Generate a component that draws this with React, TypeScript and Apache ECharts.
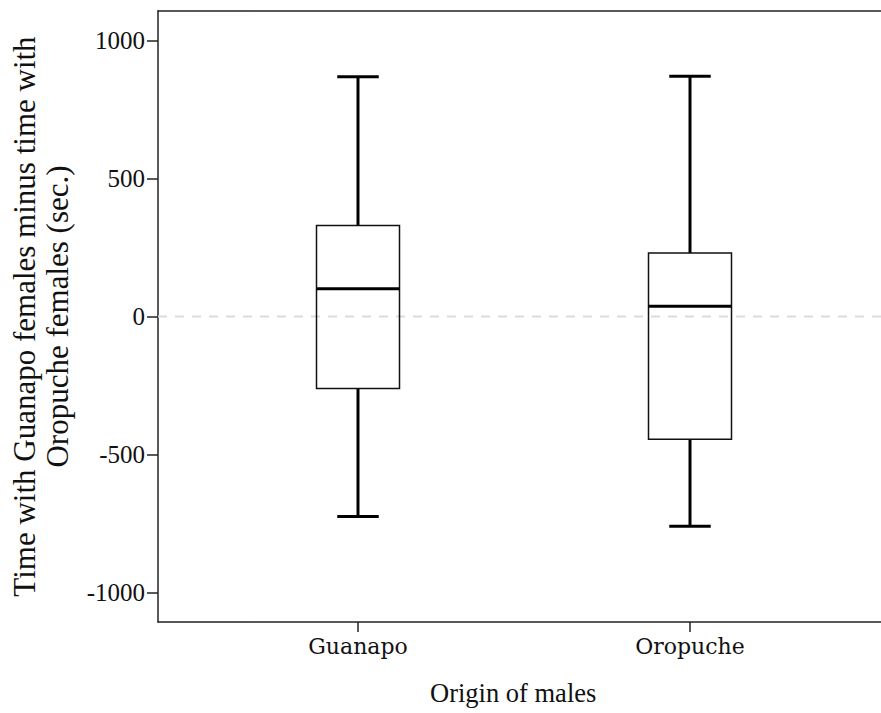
import React, { useEffect, useRef } from "react";
import * as echarts from "echarts";

const categories = ["Guanapo", "Oropuche"];
// [min whisker, Q1, median, Q3, max whisker]
const lowWhisker = [-725, -760];
const q1 = [-261, -445];
const median = [101, 37];
const q3 = [330, 230];
const highWhisker = [869, 871];
const yTicks = [-1000, -500, 0, 500, 1000];
const yMin = -1107;
const yMax = 1107;

const SERIF = "'Liberation Serif', 'Times New Roman', serif";
const DEJAVU_SERIF = "'DejaVu Serif', serif";

export default function App() {
  const ref = useRef<HTMLDivElement>(null);
  useEffect(() => {
    if (!ref.current) return;
    const chart = echarts.init(ref.current, null, { renderer: "svg" });
    const boxData = categories.map((c, i) => [i, lowWhisker[i], q1[i], median[i], q3[i], highWhisker[i]]);
    const option: any = {
      animation: false,
      backgroundColor: "#ffffff",
      grid: [
        { left: 155, right: 0, top: 11, bottom: 91 },
        { left: 192, right: 25, top: 11, bottom: 91 },
      ],
      xAxis: [
        {
          gridIndex: 0,
          type: "value",
          min: 0,
          max: 1,
          position: "bottom",
          axisLine: { show: true, onZero: false, lineStyle: { color: "#222", width: 1.5 } },
          axisTick: { show: false },
          axisLabel: { show: false },
          splitLine: { show: false },
        },
        {
          gridIndex: 0,
          type: "value",
          min: 0,
          max: 1,
          position: "top",
          axisLine: { show: true, onZero: false, lineStyle: { color: "#222", width: 1.5 } },
          axisTick: { show: false },
          axisLabel: { show: false },
          splitLine: { show: false },
        },
        {
          gridIndex: 1,
          type: "category",
          data: categories,
          boundaryGap: true,
          position: "bottom",
          axisLine: { show: false, onZero: false },
          axisTick: { show: true, alignWithLabel: true, length: 10, lineStyle: { color: "#222", width: 1.5 } },
          axisLabel: { show: true, margin: 13, fontFamily: DEJAVU_SERIF, fontSize: 22, color: "#111" },
          splitLine: { show: false },
        },
      ],
      yAxis: [
        {
          gridIndex: 0,
          type: "value",
          min: yMin,
          max: yMax,
          axisLine: { show: true, onZero: false, lineStyle: { color: "#222", width: 1.5 } },
          axisTick: { show: true, length: 11, customValues: yTicks, lineStyle: { color: "#222", width: 1.5 } },
          axisLabel: {
            show: true,
            margin: 13,
            customValues: yTicks,
            formatter: (v: number) => String(v),
            fontFamily: SERIF,
            fontSize: 25,
            color: "#111",
          },
          splitLine: { show: false },
          name: "Time with Guanapo females minus time with\nOropuche females (sec.)",
          nameLocation: "middle",
          nameGap: 84,
          nameTextStyle: { fontFamily: SERIF, fontSize: 31, lineHeight: 33, color: "#111" },
        },
        {
          gridIndex: 1,
          type: "value",
          min: yMin,
          max: yMax,
          show: false,
        },
      ],
      graphic: [
        {
          type: "text",
          left: 430,
          top: 679,
          style: { text: "Origin of males", fontFamily: SERIF, fontSize: 26.5, fill: "#111" },
        },
      ],
      series: [
        {
          type: "line",
          xAxisIndex: 0,
          yAxisIndex: 0,
          data: [[0, 0], [1, 0]],
          symbol: "none",
          silent: true,
          lineStyle: { color: "#dcdcdc", width: 2, type: [9, 8] },
          z: 1,
        },
        {
          type: "custom",
          xAxisIndex: 2,
          yAxisIndex: 1,
          data: boxData,
          z: 5,
          renderItem: (params: any, api: any) => {
            const idx = api.value(0);
            const band = api.size([1, 0])[0];
            const boxW = band * 0.25;
            const capW = boxW / 2;
            const pLow = api.coord([idx, api.value(1)]);
            const pQ1 = api.coord([idx, api.value(2)]);
            const pMed = api.coord([idx, api.value(3)]);
            const pQ3 = api.coord([idx, api.value(4)]);
            const pHigh = api.coord([idx, api.value(5)]);
            const cx = pMed[0];
            const thick = { stroke: "#000", lineWidth: 3, fill: null };
            const thin = { stroke: "#111", lineWidth: 1.5, fill: null };
            return {
              type: "group",
              children: [
                { type: "line", shape: { x1: cx, y1: pHigh[1], x2: cx, y2: pQ3[1] }, style: thick },
                { type: "line", shape: { x1: cx, y1: pQ1[1], x2: cx, y2: pLow[1] }, style: thick },
                { type: "line", shape: { x1: cx - capW / 2, y1: pHigh[1], x2: cx + capW / 2, y2: pHigh[1] }, style: thick },
                { type: "line", shape: { x1: cx - capW / 2, y1: pLow[1], x2: cx + capW / 2, y2: pLow[1] }, style: thick },
                { type: "rect", shape: { x: cx - boxW / 2, y: pQ3[1], width: boxW, height: pQ1[1] - pQ3[1] }, style: thin },
                { type: "line", shape: { x1: cx - boxW / 2, y1: pMed[1], x2: cx + boxW / 2, y2: pMed[1] }, style: thick },
              ],
            };
          },
        },
      ],
    };
    chart.setOption(option);
    return () => chart.dispose();
  }, []);
  return <div ref={ref} style={{ width: 881, height: 713, position: "absolute", left: 0, top: 0 }} />;
}
